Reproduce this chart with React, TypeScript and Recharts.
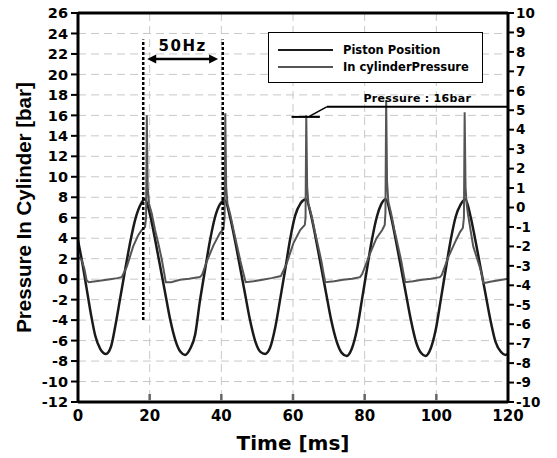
import { LineChart, Line, XAxis, YAxis, CartesianGrid, ReferenceLine, Legend } from 'recharts'

// piston position (left-axis units)
const pistonTime = [
  0, 1.2, 2.4, 3.6, 4.8, 6.2, 7.8, 9.2, 10.4, 11.7, 13.0, 14.4, 15.8, 17.2, 18.7,
  20.1, 21.5, 22.9, 24.3, 25.7, 27.2, 28.6, 29.9, 31.3, 32.7, 34.0, 35.4, 36.8, 38.2, 39.6, 41.0,
  42.4, 43.8, 45.2, 46.6, 48.0, 49.5, 50.9, 52.2, 53.6, 55.0, 56.4, 57.8, 59.2, 60.6, 62.1, 63.6,
  65.0, 66.4, 67.8, 69.2, 70.6, 72.1, 73.6, 75.0, 76.4, 77.8, 79.2, 80.6, 82.0, 83.4, 84.6, 85.9,
  87.3, 88.7, 90.1, 91.5, 92.9, 94.3, 95.7, 97.0, 98.4, 99.8, 101.2, 102.6, 104.0, 105.4, 106.8, 108.1,
  109.5, 110.9, 112.3, 113.7, 115.1, 116.5, 118.0, 119.3, 120,
]
const pistonValue = [
  3.8, 1.6, -0.9, -3.4, -5.5, -6.8, -7.3, -6.6, -4.6, -2.0, 0.6, 3.3, 5.6, 7.1, 7.8,
  6.3, 3.9, 1.3, -1.3, -3.9, -6.0, -7.1, -7.4, -6.8, -5.4, -2.2, 0.8, 3.7, 6.0, 7.3, 7.7,
  6.1, 3.8, 1.2, -1.4, -4.0, -6.1, -7.1, -7.3, -6.7, -4.8, -2.0, 0.9, 3.9, 6.2, 7.4, 7.8,
  6.3, 3.9, 1.3, -1.3, -3.9, -6.0, -7.2, -7.5, -6.8, -5.0, -2.1, 0.9, 3.8, 6.1, 7.3, 7.8,
  6.2, 3.8, 1.2, -1.4, -4.0, -6.1, -7.2, -7.5, -6.8, -5.0, -2.1, 0.9, 3.8, 6.1, 7.3, 7.8,
  6.2, 3.8, 1.2, -1.4, -4.0, -6.1, -7.1, -7.4, -7.3,
]

// in-cylinder pressure (bar)
const pressureTime = [
  0, 1.0, 1.8, 2.4, 3.0, 5.0, 7.0, 9.0, 11.0, 12.2, 13.6, 15.4, 16.8, 17.8, 18.7, 19.0, 19.2, 19.45, 19.8, 20.6, 21.5, 22.4, 23.4, 23.9, 24.5,
  26.0, 28.5, 31.0, 34.0, 34.6, 35.9, 37.8, 39.6, 40.6, 40.9, 41.1, 41.35, 41.7, 42.5, 43.4, 44.3, 45.3, 46.0, 46.8,
  49.0, 51.5, 54.0, 56.6, 58.2, 60.1, 62.0, 63.3, 63.5, 63.7, 63.95, 64.3, 65.1, 66.0, 66.9, 67.9, 68.4, 69.0,
  71.5, 74.0, 76.5, 78.7, 79.3, 81.5, 83.3, 84.9, 85.6, 85.8, 86.0, 86.25, 86.6, 87.4, 88.3, 89.2, 90.2, 90.7, 91.3,
  93.5, 96.0, 98.5, 101.0, 101.5, 103.4, 105.2, 106.6, 107.4, 107.7, 107.9, 108.15, 108.5, 108.8, 110.3, 112.2, 112.6, 113.1,
  115.0, 117.5, 120,
]
const pressureValue = [
  2.2, 1.9, 1.0, -0.1, -0.3, -0.2, -0.1, 0.0, 0.1, 0.2, 1.2, 3.2, 4.3, 4.8, 5.1, 6.0, 16.0, 9.0, 7.4, 6.4, 4.8, 3.5, 1.9, 0.9, -0.3,
  -0.3, -0.05, 0.05, 0.2, 0.4, 1.7, 3.3, 4.5, 4.9, 6.0, 16.2, 9.0, 7.4, 6.3, 4.8, 3.4, 1.8, 0.8, -0.3,
  -0.2, -0.05, 0.1, 0.3, 1.5, 3.5, 4.8, 5.3, 6.0, 16.0, 9.0, 7.4, 6.3, 4.8, 3.4, 1.8, 0.8, -0.3,
  -0.2, -0.05, 0.05, 0.2, 0.5, 2.5, 4.0, 4.8, 5.3, 6.5, 17.5, 9.5, 7.6, 6.4, 4.8, 3.4, 1.8, 0.8, -0.3,
  -0.2, -0.05, 0.05, 0.2, 0.4, 2.2, 3.6, 4.6, 5.0, 6.0, 16.3, 9.0, 7.2, 6.4, 3.2, 1.1, 0.6, -0.4,
  -0.25, -0.1, 0.05,
]

const xTicks = [0, 20, 40, 60, 80, 100, 120]
const leftTicks = [-12, -10, -8, -6, -4, -2, 0, 2, 4, 6, 8, 10, 12, 14, 16, 18, 20, 22, 24, 26]
const rightTicks = [-10, -9, -8, -7, -6, -5, -4, -3, -2, -1, 0, 1, 2, 3, 4, 5, 6, 7, 8, 9, 10]

const pistonData = pistonTime.map((t, i) => ({ t, v: pistonValue[i] }))
const pressureData = pressureTime.map((t, i) => ({ t, v: pressureValue[i] }))

const BOLD = { fontFamily: 'DejaVu Sans', fontWeight: 700, fill: '#000' }

const XTick = ({ x, y, payload }: any) => (
  <g>
    {payload.value > 0 && payload.value < 120 && (
      <line x1={x} x2={x} y1={y - 9.5} y2={y - 16} stroke="#666" strokeWidth={2.5} />
    )}
    <text x={x} y={y} dy="0.71em" textAnchor="middle" fontSize={15} {...BOLD}>
      {payload.value}
    </text>
  </g>
)

const YTitle = ({ viewBox }: any) => {
  const cx = viewBox.x + 17
  const cy = viewBox.y + viewBox.height / 2
  return (
    <text
      x={cx}
      y={cy}
      transform={`rotate(-90, ${cx}, ${cy})`}
      textAnchor="middle"
      dominantBaseline="central"
      fontFamily="Liberation Sans"
      fontWeight={700}
      fontSize={20.5}
      fill="#000"
    >
      Pressure In Cylinder [bar]
    </text>
  )
}

const DoubleArrow = ({ x1, y1, x2, y2 }: any) => {
  const h = 8
  return (
    <g>
      <line x1={x1 + h} y1={y1} x2={x2 - h} y2={y2} stroke="#000" strokeWidth={2.5} />
      <polygon points={`${x1},${y1} ${x1 + h + 1},${y1 - 4.5} ${x1 + h + 1},${y1 + 4.5}`} fill="#000" />
      <polygon points={`${x2},${y2} ${x2 - h - 1},${y2 - 4.5} ${x2 - h - 1},${y2 + 4.5}`} fill="#000" />
    </g>
  )
}

const LegendBox = () => (
  <div
    style={{
      position: 'relative',
      width: 215,
      height: 51,
      boxSizing: 'border-box',
      border: '1.5px solid #000',
      background: '#fff',
      fontFamily: 'DejaVu Sans',
      fontWeight: 700,
      fontSize: 11.5,
      color: '#000',
    }}
  >
    {[
      { name: 'Piston Position', color: '#1a1a1a', top: 17 },
      { name: 'In cylinderPressure', color: '#555', top: 34 },
    ].map((item) => (
      <div key={item.name}>
        <div style={{ position: 'absolute', left: 9, top: item.top - 1, width: 55, height: 2, background: item.color }} />
        <div style={{ position: 'absolute', left: 74, top: item.top - 8, lineHeight: '16px', whiteSpace: 'nowrap' }}>
          {item.name}
        </div>
      </div>
    ))}
  </div>
)

export default function App() {
  return (
    <div style={{ position: 'absolute', left: 0, top: 0 }}>
      <LineChart width={557} height={458} margin={{ top: 13, right: 9, left: 6, bottom: 26 }}>
        <CartesianGrid yAxisId="left" stroke="#c8c8c8" strokeDasharray="8 5" strokeWidth={1} />
        <XAxis
          dataKey="t"
          type="number"
          domain={[0, 120]}
          ticks={xTicks}
          interval={0}
          allowDataOverflow
          height={30}
          tickSize={0}
          tickMargin={8}
          tickLine={false}
          tick={<XTick />}
          axisLine={{ stroke: '#000', strokeWidth: 3 }}
          label={{ value: 'Time [ms]', position: 'bottom', offset: 4, style: { ...BOLD, fontSize: 20 } }}
        />
        <YAxis
          yAxisId="left"
          type="number"
          domain={[-12, 26]}
          ticks={leftTicks}
          interval={0}
          allowDataOverflow
          width={72}
          tickSize={7}
          tickMargin={3}
          tick={{ ...BOLD, fontSize: 14.5 }}
          tickLine={{ stroke: '#000', strokeWidth: 2 }}
          axisLine={{ stroke: '#000', strokeWidth: 3 }}
          label={<YTitle />}
        />
        <YAxis
          yAxisId="right"
          orientation="right"
          type="number"
          domain={[-10, 10]}
          ticks={rightTicks}
          interval={0}
          allowDataOverflow
          width={40}
          tickSize={6}
          tickMargin={2}
          tick={{ ...BOLD, fontSize: 13.5 }}
          tickLine={{ stroke: '#000', strokeWidth: 2 }}
          axisLine={{ stroke: '#000', strokeWidth: 3 }}
        />
        <ReferenceLine yAxisId="left" y={26} stroke="#000" strokeWidth={3} />
        <Legend
          layout="horizontal"
          verticalAlign="middle"
          align="center"
          content={<LegendBox />}
          wrapperStyle={{ left: 268, top: 32, width: 215, height: 51 }}
        />
        <Line
          yAxisId="left"
          data={pistonData}
          dataKey="v"
          type="monotone"
          stroke="#1a1a1a"
          strokeWidth={2.5}
          dot={false}
          isAnimationActive={false}
          name="Piston Position"
        />
        <Line
          yAxisId="left"
          data={pressureData}
          dataKey="v"
          type="linear"
          stroke="#555"
          strokeWidth={2}
          dot={false}
          isAnimationActive={false}
          name="In cylinderPressure"
        />
        {/* 50Hz period marker */}
        <ReferenceLine
          yAxisId="left"
          segment={[{ x: 18.2, y: -4 }, { x: 18.2, y: 23.4 }]}
          stroke="#000"
          strokeWidth={2.5}
          strokeDasharray="3 2"
        />
        <ReferenceLine
          yAxisId="left"
          segment={[{ x: 40.4, y: -4 }, { x: 40.4, y: 23.4 }]}
          stroke="#000"
          strokeWidth={2.5}
          strokeDasharray="3 2"
        />
        <ReferenceLine
          yAxisId="left"
          segment={[{ x: 19.3, y: 21.5 }, { x: 39.1, y: 21.5 }]}
          shape={<DoubleArrow />}
          label={{ value: '50Hz', position: 'top', offset: 8, style: { ...BOLD, fontSize: 15, letterSpacing: 1.5 } }}
        />
        {/* peak pressure callout */}
        <ReferenceLine
          yAxisId="left"
          segment={[{ x: 59.6, y: 15.85 }, { x: 67.5, y: 15.85 }]}
          stroke="#000"
          strokeWidth={2}
        />
        <ReferenceLine
          yAxisId="left"
          segment={[{ x: 64.3, y: 15.85 }, { x: 69.4, y: 16.83 }]}
          stroke="#000"
          strokeWidth={1.5}
        />
        <ReferenceLine
          yAxisId="left"
          segment={[{ x: 69.4, y: 16.83 }, { x: 120, y: 16.83 }]}
          stroke="#000"
          strokeWidth={2}
          label={{ value: 'Pressure : 16bar', position: 'top', offset: 5, style: { ...BOLD, fontSize: 11, letterSpacing: 0.3 } }}
        />
      </LineChart>
    </div>
  )
}
